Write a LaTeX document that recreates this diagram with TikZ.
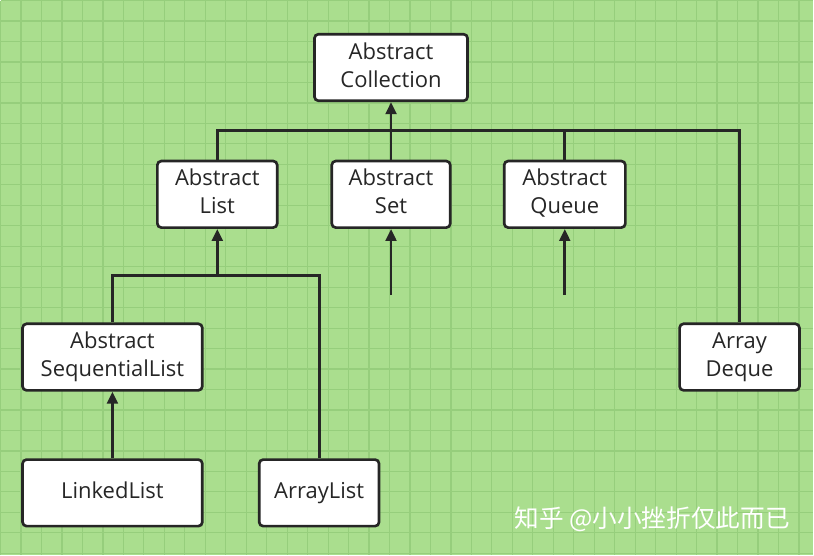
\documentclass[tikz,border=0pt]{standalone}
\usepackage{fontspec}
\setmainfont{Open Sans}
\newfontfamily\cjk{Noto Sans CJK SC}
\usetikzlibrary{arrows.meta}
\definecolor{bggreen}{RGB}{170,222,142}
\definecolor{gridgreen}{RGB}{150,206,124}
\definecolor{ink}{RGB}{38,38,38}
\tikzset{
  cls/.style={draw=ink,line width=2pt,fill=white,rounded corners=3pt,
    minimum height=50pt,align=center,font=\fontsize{16.5}{21}\selectfont,text=ink,inner sep=2pt},
  link/.style={draw=ink,line width=2.2pt},
  inherit/.style={link,-{Triangle[length=9pt,width=8pt]}}
}
\begin{document}
\begin{tikzpicture}[x=0.75pt,y=-0.75pt]
\fill[bggreen] (0,0) rectangle (814,555);
\foreach \g in {0,20.5,...,814}
  \draw[gridgreen,line width=0.9pt] (\g,0) -- (\g,555);
\foreach \g in {0,20.5,...,555}
  \draw[gridgreen,line width=0.9pt] (0,\g) -- (814,\g);
\useasboundingbox (0,0) rectangle (814,555);
% classes
\node[cls,minimum width=115pt] (coll) at (391,67) {\strut Abstract\\Collection\strut};
\node[cls,minimum width=90pt] (list) at (217,194) {\strut Abstract\\List\strut};
\node[cls,minimum width=89pt] (set) at (391,194) {\strut Abstract\\Set\strut};
\node[cls,minimum width=91pt] (queue) at (565,194) {\strut Abstract\\Queue\strut};
\node[cls,minimum width=135pt] (seq) at (112,357) {\strut Abstract\\SequentialList\strut};
\node[cls,minimum width=90pt] (deque) at (740,357) {\strut Array\\Deque\strut};
\node[cls,minimum width=135pt] (linked) at (112,493) {\strut LinkedList\strut};
\node[cls,minimum width=90pt] (array) at (319,493) {\strut ArrayList\strut};
% junctions
\coordinate (top) at (391,130);
\coordinate (mid) at (217,275);
\coordinate (setfoot) at (391,295);
\coordinate (queuefoot) at (565,295);
% edges
\draw[inherit] (top) -- (coll);
\draw[link] (list.north) |- (top) -| (deque.north);
\draw[link] (set) -- (top);
\draw[link] (queue.north) -- (queue.north |- top);
\draw[inherit] (mid) -- (list);
\draw[link] (seq.north) |- (mid) -| (array.north);
\draw[inherit] (setfoot) -- (set);
\draw[inherit] (queuefoot) -- (queue);
\draw[inherit] (linked) -- (seq);
\node[anchor=east,text=white,font=\cjk\fontsize{18.5}{22}\selectfont] (mark) at (795,519) {知乎 @小小挫折仅此而已};
\end{tikzpicture}
\end{document}
